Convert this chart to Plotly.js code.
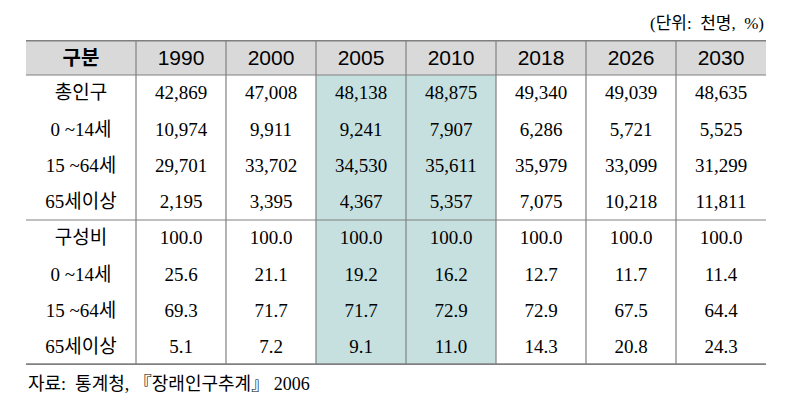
<!DOCTYPE html>
<html>
<head>
<meta charset="utf-8">
<script src="https://cdn.plot.ly/plotly-3.0.1.min.js"></script>
<style>html,body{margin:0;padding:0;background:#fff;}#chart{width:795px;height:401px;}</style>
</head>
<body>
<div id="chart"></div>
<script>
// ---- data ----
const headerLabel = '구분';
const years = ['1990', '2000', '2005', '2010', '2018', '2026', '2030'];
const highlightYears = ['2005', '2010'];
const popLabels = ['총인구', '0 ~14세', '15 ~64세', '65세이상'];
const totalPop = [42869, 47008, 48138, 48875, 49340, 49039, 48635];
const pop0_14 = [10974, 9911, 9241, 7907, 6286, 5721, 5525];
const pop15_64 = [29701, 33702, 34530, 35611, 35979, 33099, 31299];
const pop65plus = [2195, 3395, 4367, 5357, 7075, 10218, 11811];
const shareLabels = ['구성비', '0 ~14세', '15 ~64세', '65세이상'];
const shareTotal = [100.0, 100.0, 100.0, 100.0, 100.0, 100.0, 100.0];
const share0_14 = [25.6, 21.1, 19.2, 16.2, 12.7, 11.7, 11.4];
const share15_64 = [69.3, 71.7, 71.7, 72.9, 72.9, 67.5, 64.4];
const share65plus = [5.1, 7.2, 9.1, 11.0, 14.3, 20.8, 24.3];
const unitNote = '(단위:  천명,  %)';
const sourceNote = '자료:  통계청, 『장래인구추계』 2006';

// ---- layout geometry (pixel-like units) ----
const colWidths = [110].concat(years.map(() => 90));
const edges = [0];
colWidths.forEach(w => edges.push(edges[edges.length - 1] + w));
const centers = colWidths.map((w, i) => edges[i] + w / 2);
const totalW = edges[edges.length - 1];
const headerH = 35;
const rowH = 36.25;
const rows = [
  { label: popLabels[0], vals: totalPop, fmt: 'int' },
  { label: popLabels[1], vals: pop0_14, fmt: 'int' },
  { label: popLabels[2], vals: pop15_64, fmt: 'int' },
  { label: popLabels[3], vals: pop65plus, fmt: 'int' },
  { label: shareLabels[0], vals: shareTotal, fmt: 'pct' },
  { label: shareLabels[1], vals: share0_14, fmt: 'pct' },
  { label: shareLabels[2], vals: share15_64, fmt: 'pct' },
  { label: shareLabels[3], vals: share65plus, fmt: 'pct' }
];
const totalH = headerH + rowH * rows.length;
const rowCenter = i => headerH + rowH * (i + 0.5) + 1.5;

function fmt(v, f) {
  if (f === 'int') return v.toLocaleString('en-US');
  return v.toFixed(1);
}

const serif = '"Liberation Serif", "Times New Roman", "Noto Sans CJK KR", serif';
const sans = '"Liberation Sans", Arial, "Noto Sans CJK KR", sans-serif';
const korean = '"Liberation Serif", "Noto Sans CJK KR", serif';

// header trace
const headerTrace = {
  type: 'scatter', mode: 'text', hoverinfo: 'skip', cliponaxis: false,
  x: centers.slice(1), y: years.map(() => headerH / 2 + 2),
  text: years, textposition: 'middle center',
  textfont: { family: sans, size: 21, color: '#000' }
};
const headerLabelTrace = {
  type: 'scatter', mode: 'text', hoverinfo: 'skip', cliponaxis: false,
  x: [centers[0]], y: [headerH / 2 + 2],
  text: ['<b>' + headerLabel + '</b>'], textposition: 'middle center',
  textfont: { family: '"Noto Sans CJK KR", sans-serif', size: 20, color: '#000' }
};
// row labels
const labelTrace = {
  type: 'scatter', mode: 'text', hoverinfo: 'skip', cliponaxis: false,
  x: rows.map(() => centers[0]), y: rows.map((r, i) => rowCenter(i)),
  text: rows.map(r => r.label), textposition: 'middle center',
  textfont: { family: korean, size: 19, color: '#000' }
};
// values
const vx = [], vy = [], vt = [];
rows.forEach((r, i) => {
  r.vals.forEach((v, j) => {
    vx.push(centers[j + 1]); vy.push(rowCenter(i)); vt.push(fmt(v, r.fmt));
  });
});
const valueTrace = {
  type: 'scatter', mode: 'text', hoverinfo: 'skip', cliponaxis: false,
  x: vx, y: vy, text: vt, textposition: 'middle center',
  textfont: { family: serif, size: 19, color: '#000' }
};

// shapes
const lineColor = '#808080';
const shapes = [];
shapes.push({ type: 'rect', layer: 'below', xref: 'x', yref: 'y', x0: 0, x1: totalW, y0: 0, y1: headerH,
  fillcolor: '#d9d9d9', line: { width: 0 } });
highlightYears.forEach(yr => {
  const j = years.indexOf(yr) + 1;
  shapes.push({ type: 'rect', layer: 'below', xref: 'x', yref: 'y', x0: edges[j], x1: edges[j + 1],
    y0: headerH, y1: totalH, fillcolor: '#c6e0e0', line: { width: 0 } });
});
for (let k = 1; k < edges.length - 1; k++) {
  shapes.push({ type: 'line', xref: 'x', yref: 'y', x0: edges[k], x1: edges[k], y0: 0, y1: totalH,
    line: { color: lineColor, width: 1.2 } });
}
shapes.push({ type: 'line', xref: 'x', yref: 'y', x0: 0, x1: totalW, y0: headerH, y1: headerH,
  line: { color: lineColor, width: 1.2 } });
shapes.push({ type: 'line', xref: 'x', yref: 'y', x0: 0, x1: totalW, y0: headerH + rowH * 4, y1: headerH + rowH * 4,
  line: { color: lineColor, width: 1.2 } });
shapes.push({ type: 'line', xref: 'x', yref: 'y', x0: 0, x1: totalW, y0: 0, y1: 0,
  line: { color: lineColor, width: 3 } });
shapes.push({ type: 'line', xref: 'x', yref: 'y', x0: 0, x1: totalW, y0: totalH, y1: totalH,
  line: { color: lineColor, width: 3.5 } });

const layout = {
  width: 795, height: 401,
  margin: { l: 26, r: 29, t: 40, b: 36 },
  paper_bgcolor: '#fff', plot_bgcolor: '#fff',
  showlegend: false,
  xaxis: { range: [0, totalW], visible: false, fixedrange: true },
  yaxis: { range: [totalH, 0], visible: false, fixedrange: true },
  shapes: shapes,
  annotations: [
    { xref: 'paper', yref: 'paper', x: 1, y: 1, yshift: 17, xanchor: 'right', yanchor: 'middle',
      text: unitNote, showarrow: false, font: { family: korean, size: 17, color: '#000' } },
    { xref: 'paper', yref: 'paper', x: 0, y: 0, yshift: -19, xanchor: 'left', yanchor: 'middle',
      text: sourceNote, showarrow: false, font: { family: korean, size: 18, color: '#000' } }
  ]
};

Plotly.newPlot('chart', [headerTrace, headerLabelTrace, labelTrace, valueTrace], layout,
  { staticPlot: true, displayModeBar: false });
</script>
</body>
</html>
